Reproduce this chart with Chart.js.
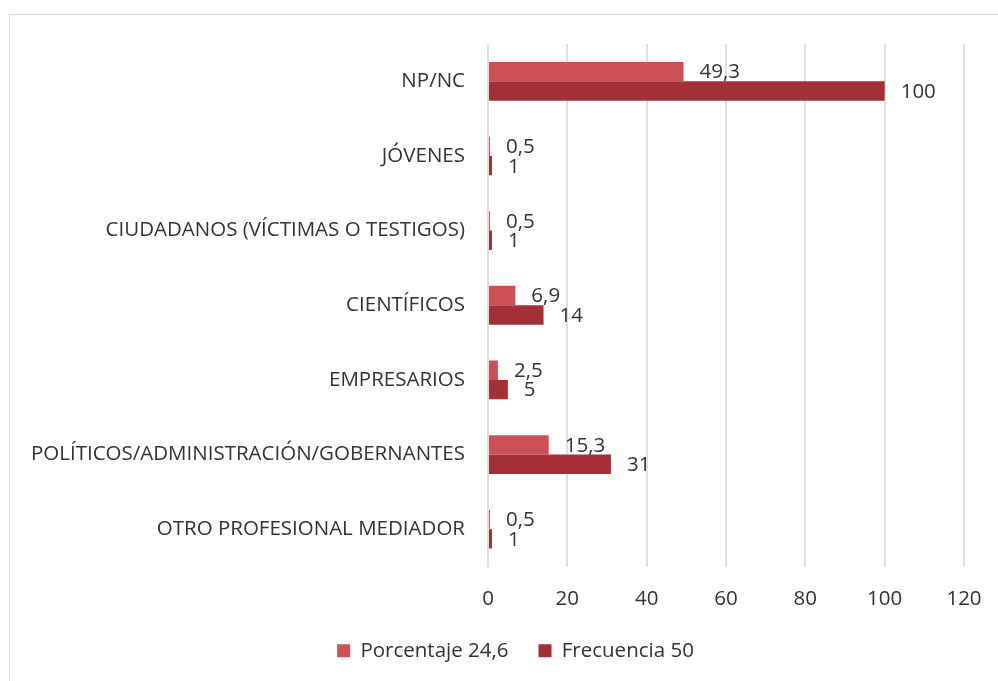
<!DOCTYPE html>
<html lang="es">
<head>
<meta charset="utf-8">
<title>Portavoces</title>
<script src="https://cdn.jsdelivr.net/npm/chart.js@4.4.1/dist/chart.umd.min.js"></script>
<style>
    html, body { margin: 0; padding: 0; background: #fff; }
    #wrap { position: relative; width: 998px; height: 681px; overflow: hidden; }
    #frame {
        position: absolute; left: 9px; top: 14px;
        width: 1100px; height: 800px;
        border: 1px solid #d9d9d9;
    }
    #chart { position: absolute; left: 0; top: 0; }
</style>
</head>
<body>
<div id="wrap">
    <div id="frame"></div>
    <canvas id="chart" width="998" height="681"></canvas>
</div>
<script>
// Categories, top to bottom
const categories = [
    'NP/NC',
    'JÓVENES',
    'CIUDADANOS (VÍCTIMAS O TESTIGOS)',
    'CIENTÍFICOS',
    'EMPRESARIOS',
    'POLÍTICOS/ADMINISTRACIÓN/GOBERNANTES',
    'OTRO PROFESIONAL MEDIADOR'
];

const porcentaje = [49.3, 0.5, 0.5, 6.9, 2.5, 15.3, 0.5];
const frecuencia = [100, 1, 1, 14, 5, 31, 1];

const seriesNames = ['Porcentaje 24,6', 'Frecuencia 50'];
const xTicks = [0, 20, 40, 60, 80, 100, 120];

const TEXT = '#333333';
const FONT_SIZE = 20.5;

Chart.defaults.font.family = "'Open Sans', 'Noto Sans', sans-serif";
Chart.defaults.font.size = FONT_SIZE;
Chart.defaults.color = TEXT;

// value labels to the right of each bar, decimal comma
const barValues = {
    id: 'barValues',
    afterDatasetsDraw(chart) {
        const ctx = chart.ctx;
        ctx.save();
        ctx.font = FONT_SIZE + "px 'Open Sans', 'Noto Sans', sans-serif";
        ctx.fillStyle = TEXT;
        ctx.textAlign = 'left';
        ctx.textBaseline = 'middle';
        chart.data.datasets.forEach((ds, di) => {
            chart.getDatasetMeta(di).data.forEach((bar, i) => {
                const txt = String(ds.data[i]).replace('.', ',');
                ctx.fillText(txt, bar.x + 16, bar.y + 1);
            });
        });
        ctx.restore();
    }
};

// the outer frame runs past the right edge, so centre the legend on it
const legendShift = {
    id: 'legendShift',
    afterLayout(chart) {
        if (!chart.legend) return;
        chart.legend.left += 16.5;
        chart.legend.right += 16.5;
    }
};

new Chart(document.getElementById('chart'), {
    type: 'bar',
    data: {
        labels: categories,
        datasets: [
            {
                label: seriesNames[0],
                data: porcentaje,
                backgroundColor: '#cd5056',
                borderWidth: 0
            },
            {
                label: seriesNames[1],
                data: frecuencia,
                backgroundColor: '#a52f37',
                borderWidth: 0
            }
        ]
    },
    options: {
        indexAxis: 'y',
        responsive: false,
        animation: false,
        categoryPercentage: 0.52,
        barPercentage: 1,
        layout: { padding: { top: 44, right: 0, bottom: 10, left: 0 } },
        scales: {
            x: {
                min: 0,
                max: 120,
                afterBuildTicks: (scale) => { scale.ticks = xTicks.map(v => ({ value: v })); },
                afterFit: (scale) => {
                    scale.height = 44;
                    scale.paddingRight = 34;
                },
                grid: { color: '#e0e0e0', lineWidth: 2, drawTicks: false },
                border: { display: false },
                ticks: { padding: 20, color: TEXT, font: { size: FONT_SIZE } }
            },
            y: {
                afterFit: (scale) => { scale.width = 488; },
                grid: { display: false, drawTicks: false },
                border: { display: false },
                ticks: { padding: 23, color: TEXT, font: { size: FONT_SIZE } }
            }
        },
        plugins: {
            legend: {
                position: 'bottom',
                labels: {
                    boxWidth: 13,
                    boxHeight: 13,
                    padding: 30,
                    color: TEXT,
                    font: { size: FONT_SIZE }
                }
            },
            tooltip: { enabled: false }
        }
    },
    plugins: [barValues, legendShift]
});
</script>
</body>
</html>
